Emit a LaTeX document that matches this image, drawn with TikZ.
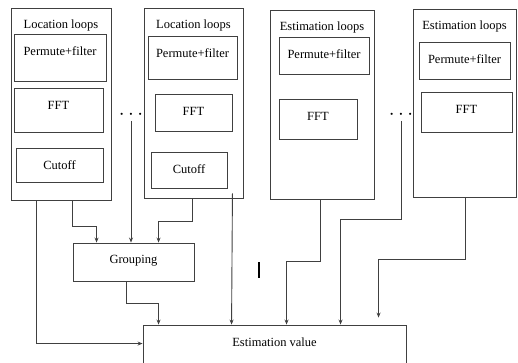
\documentclass[tikz,border=0pt]{standalone}
\usepackage{fontspec}
\setmainfont{Liberation Serif}
\usetikzlibrary{arrows.meta,calc}
\definecolor{linegray}{RGB}{64,64,64}

\tikzset{
  blk/.style={draw=linegray, line width=0.9pt, inner sep=0pt},
  ttl/.style={anchor=center, yshift=-18pt, inner sep=0pt, font=\fontsize{12.5}{14}\selectfont},
  arr/.style={draw=linegray, line width=0.9pt, -{Stealth[length=5pt,width=4pt]}}
}

\begin{document}
\begin{tikzpicture}[x=1pt,y=-1pt]
      % page is 518 x 362, y grows downwards
      \clip (0,0) rectangle (518,362);
      \useasboundingbox (0,0) rectangle (518,362);
      % location loops (left pair)
      \node[blk, minimum width=100pt, minimum height=192pt, label={[ttl]north:Location loops}] (loc1) at (61,104) {};
      \node[blk, minimum width=92pt, minimum height=47pt, label={[ttl]north:Permute+filter}] (pf1) at (60,57.5) {};
      \node[blk, minimum width=89pt, minimum height=44pt, label={[ttl]north:FFT}] (fft1) at (58.5,110) {};
      \node[blk, minimum width=87pt, minimum height=34pt, label={[ttl]north:Cutoff}] (cut1) at (59.5,165) {};
      \node[blk, minimum width=99pt, minimum height=190pt, label={[ttl]north:Location loops}] (loc2) at (193.5,103) {};
      \node[blk, minimum width=89pt, minimum height=43pt, label={[ttl]north:Permute+filter}] (pf2) at (192.5,57.5) {};
      \node[blk, minimum width=77pt, minimum height=37pt, label={[ttl]north:FFT}] (fft2) at (193.5,112.5) {};
      \node[blk, minimum width=76pt, minimum height=36pt, label={[ttl]north:Cutoff}] (cut2) at (189,170) {};
      % estimation loops (right pair)
      \node[blk, minimum width=104pt, minimum height=189pt, label={[ttl]north:Estimation loops}] (est1) at (322,104.5) {};
      \node[blk, minimum width=90pt, minimum height=37pt, label={[ttl]north:Permute+filter}] (pf3) at (324,55.5) {};
      \node[blk, minimum width=78pt, minimum height=40pt, label={[ttl]north:FFT}] (fft3) at (318,119) {};
      \node[blk, minimum width=103pt, minimum height=188pt, label={[ttl]north:Estimation loops}] (est2) at (464.5,103) {};
      \node[blk, minimum width=91pt, minimum height=37pt, label={[ttl]north:Permute+filter}] (pf4) at (464.5,60.5) {};
      \node[blk, minimum width=91pt, minimum height=40pt, label={[ttl]north:FFT}] (fft4) at (466.5,112) {};
      % dots between the loops
      \node[inner sep=1pt, font=\fontsize{20}{20}\selectfont] (dotsA) at (131,115) {$\cdots$};
      \node[inner sep=1pt, font=\fontsize{20}{20}\selectfont] (dotsB) at (401,115) {$\cdots$};
      % grouping and result
      \node[blk, minimum width=121pt, minimum height=38pt, label={[ttl]north:Grouping}] (grp) at (133.5,262) {};
      \node[blk, minimum width=263pt, minimum height=55pt, label={[ttl]north:Estimation value}] (val) at (274.5,352.5) {};
      % into grouping
      \draw[arr] (loc1.south -| grp.west) -- ++(0,26) -| ($(grp.north west)+(24,0)$);
      \draw[arr] (dotsA.south) -- (dotsA.south |- grp.north);
      \draw[arr] ($(loc2.south west)+(49,0)$) -- ++(0,23) -| ($(grp.north west)+(86,0)$);
      % into estimation value
      \draw[arr] ($(loc1.south west)+(26,0)$) |- ($(val.north west)+(0,19)$);
      \draw[arr] ($(grp.south west)+(54,0)$) -- ++(0,22) -| ($(val.north west)+(16,0)$);
      \draw[arr] ($(cut2.south east)+(5,5)$) -- ($(val.north west)+(89,0)$);
      \draw[arr] ($(est1.south west)+(51,0)$) -- ++(0,62) -| ($(val.north west)+(144,0)$);
      \draw[arr] (dotsB.south) -- ++(0,99) -| ($(val.north west)+(198,0)$);
      \draw[arr] ($(est2.south west)+(53,0)$) -- ++(0,62) -| ($(val.north west)+(236,-7)$);
      % small bar
      \draw[line width=1.8pt] (259,262) -- (259,278);
\end{tikzpicture}
\end{document}
